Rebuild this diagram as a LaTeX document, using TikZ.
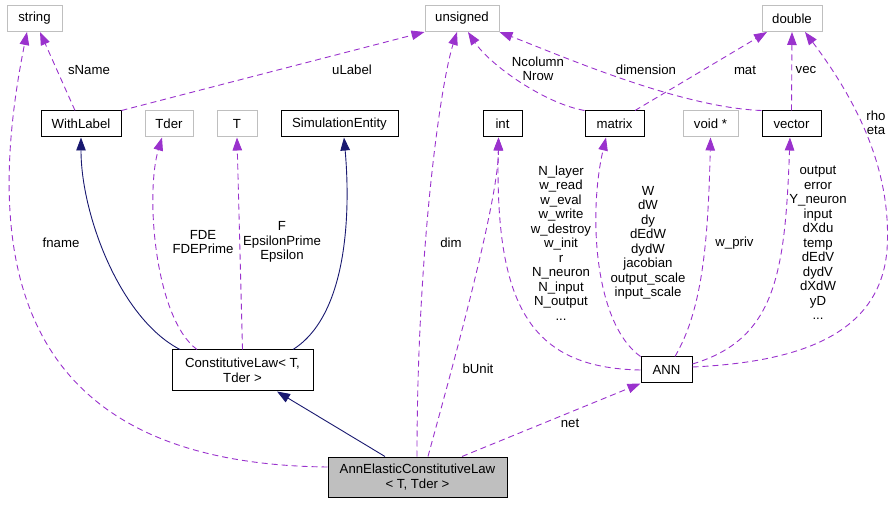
\documentclass[tikz,border=0pt]{standalone}
\usepackage{fontspec}
\setmainfont{Liberation Sans}
\usetikzlibrary{arrows.meta}
\definecolor{memcol}{HTML}{9A32CD}
\definecolor{inhcol}{HTML}{191970}
\definecolor{extcol}{HTML}{BFBFBF}

\begin{document}
\begin{tikzpicture}[x=1pt, y=1pt,
        every node/.style={font=\fontsize{13.2}{14.5}\selectfont},
        cls/.style={draw=black, line width=1pt, inner sep=0pt, minimum height=26pt, align=center},
        ext/.style={cls, draw=extcol},
        mem/.style={draw=memcol, line width=0.9pt, dash pattern=on 6pt off 4pt, -{Triangle[length=13pt,width=9.5pt]}},
        inh/.style={draw=inhcol, line width=0.9pt, -{Triangle[length=13pt,width=9.5pt]}},
        lbl/.style={inner sep=0pt, align=center}]
        \useasboundingbox (0,0) rectangle (895,504);

        % classes
        \node[ext, minimum width=55pt] (str) at (34.5,485.5) {string};
        \node[ext, minimum width=74pt] (uns) at (462,485.5) {unsigned};
        \node[ext, minimum width=60pt] (dbl) at (792,485.5) {double};
        \node[cls, minimum width=80pt] (wlab) at (81,380) {WithLabel};
        \node[ext, minimum width=48pt] (tder) at (169,380) {Tder};
        \node[ext, minimum width=40pt] (tpar) at (237,380) {T};
        \node[cls, minimum width=117pt] (sim) at (339.5,380) {SimulationEntity};
        \node[cls, minimum width=39pt] (int) at (502.5,380) {int};
        \node[cls, minimum width=59pt] (mtx) at (614.5,380) {matrix};
        \node[ext, minimum width=55pt] (voidp) at (710.5,380) {void *};
        \node[cls, minimum width=59pt] (vec) at (791.5,380) {vector};
        \node[cls, minimum width=141pt, minimum height=41pt] (claw) at (242.5,133.5) {ConstitutiveLaw< T,\\Tder >};
        \node[cls, minimum width=51pt] (ann) at (666.5,134) {ANN};
        \node[cls, fill=extcol, minimum width=179pt, minimum height=40pt] (aecl) at (417.5,27) {AnnElasticConstitutiveLaw\\< T, Tder >};

        % inheritance
        \draw[inh] ([xshift=-62.5pt]claw.north) .. controls +(-60,31) and +(0,-77) .. (wlab.south);
        \draw[inh] ([xshift=50.5pt]claw.north) .. controls +(57,36) and +(6,-67) .. ([xshift=4.5pt]sim.south);
        \draw[inh] ([xshift=-32.5pt]aecl.north) -- ([xshift=34.5pt]claw.south);

        % members
        \draw[mem] ([xshift=-6pt]wlab.north) -- ([xshift=5.5pt]str.south);
        \draw[mem] (wlab.north east) -- (uns.south west);
        \draw[mem] ([yshift=10pt]aecl.west) .. controls +(-278,3) and +(-55,-273) .. ([xshift=-7.5pt]str.south);
        \draw[mem] ([xshift=-45.5pt]claw.north) .. controls +(-42,31) and +(-17,-57) .. ([xshift=-7pt]tder.south);
        \draw[mem] (claw.north) -- (tpar.south);
        \draw[mem] ([xshift=-0.5pt]aecl.north) .. controls +(0,203) and +(-17,-53) .. ([xshift=-5pt]uns.south);
        \draw[mem] ([xshift=10.5pt]aecl.north) .. controls +(17,63) and +(0,-67) .. ([xshift=-4pt]int.south);
        \draw[mem] ([xshift=44.5pt]aecl.north) -- (ann.south west);
        \draw[mem] (ann.west) .. controls +(-111,2) and +(-3.5,-167) .. ([xshift=-4pt]int.south);
        \draw[mem] (ann.north west) .. controls +(-46,33) and +(-18,-77) .. ([xshift=-8.5pt]mtx.south);
        \draw[mem] ([xshift=8.5pt]ann.north) .. controls +(25,43) and +(-2.5,-117) .. (voidp.south);
        \draw[mem] ([yshift=6pt]ann.east) .. controls +(83,25) and +(-5,-137) .. ([xshift=-1.5pt]vec.south);
        \coordinate (rhobend) at (887,254);
        \draw[mem] ([yshift=3pt]ann.east) .. controls +(108,5) and +(-7,-84) .. (rhobend)
                   .. controls +(5,76) and +(55,-73) .. ([xshift=13pt]dbl.south);
        \draw[mem] (mtx.north west) .. controls +(-40,7) and +(22,-33) .. ([xshift=6pt]uns.south);
        \draw[mem] ([xshift=20.5pt]mtx.north) -- ([xshift=-25pt]dbl.south);
        \draw[mem] (vec.north) -- (dbl.south);
        \draw[mem] (vec.north west) .. controls +(-82,3) and +(60,-23) .. (uns.south east);

        % member names
        \node[lbl] (l-sname) at (89,434) {sName};
        \node[lbl] (l-ulabel) at (352,434) {uLabel};
        \node[lbl] (l-ncol) at (538,435) {Ncolumn\\Nrow};
        \node[lbl] (l-dimension) at (646,434) {dimension};
        \node[lbl] (l-mat) at (745,434) {mat};
        \node[lbl] (l-vec) at (806,434) {vec};
        \node[lbl] (l-rho) at (876,381) {rho\\eta};
        \node[lbl] (l-fname) at (61,261) {fname};
        \node[lbl] (l-fde) at (203,262) {FDE\\FDEPrime};
        \node[lbl] (l-eps) at (282,262) {F\\EpsilonPrime\\Epsilon};
        \node[lbl] (l-dim) at (451,261) {dim};
        \node[lbl] (l-annint) at (561,261) {N\_layer\\w\_read\\w\_eval\\w\_write\\w\_destroy\\w\_init\\r\\N\_neuron\\N\_input\\N\_output\\...};
        \node[lbl] (l-annmtx) at (648,261) {W\\dW\\dy\\dEdW\\dydW\\jacobian\\output\_scale\\input\_scale};
        \node[lbl] (l-wpriv) at (734.5,261) {w\_priv};
        \node[lbl] (l-annvec) at (818,261) {output\\error\\Y\_neuron\\input\\dXdu\\temp\\dEdV\\dydV\\dXdW\\yD\\...};
        \node[lbl] (l-bunit) at (478,135) {bUnit};
        \node[lbl] (l-net) at (570,81) {net};
\end{tikzpicture}
\end{document}
